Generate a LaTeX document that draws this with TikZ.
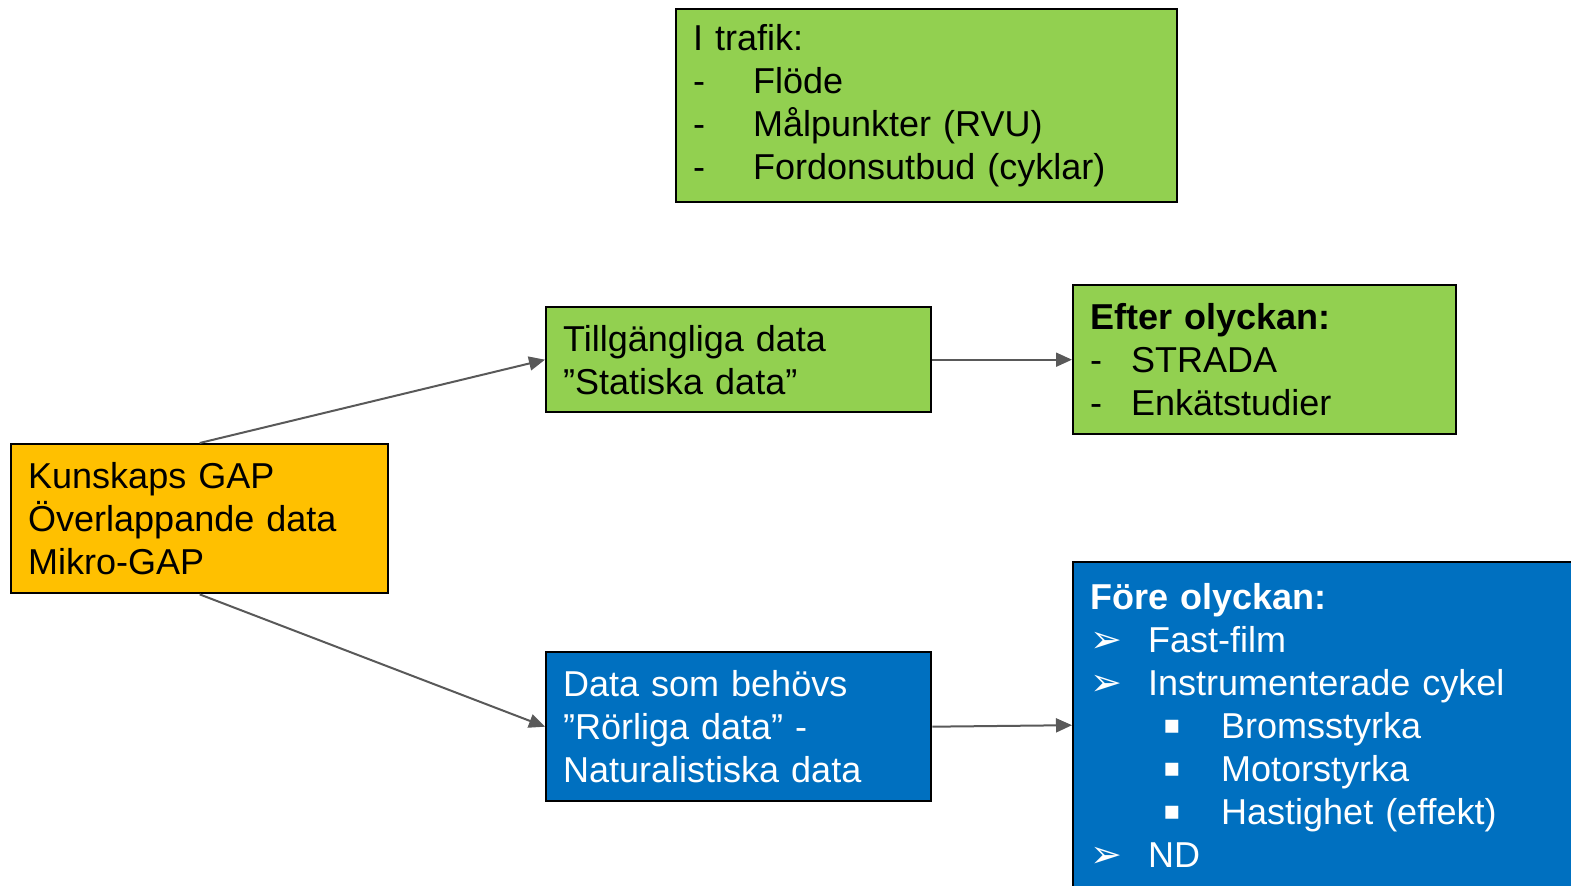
\documentclass[tikz,border=0pt]{standalone}
\usepackage{fontspec}
\setmainfont{Liberation Sans}
\newfontfamily\symfont{DejaVu Sans}
\usetikzlibrary{arrows.meta}

\definecolor{boxgreen}{HTML}{92D050}
\definecolor{boxorange}{HTML}{FFC000}
\definecolor{boxblue}{HTML}{0070C0}
\definecolor{arrowgray}{HTML}{595959}

\newcommand{\dashline}[2]{\makebox[#1][l]{-}#2}
\newcommand{\arrline}[1]{\makebox[29pt][l]{\symfont\fontsize{19}{14}\selectfont ➢}#1}
\newcommand{\sqline}[1]{\hspace*{36.5pt}\makebox[29pt][l]{\raisebox{2.5pt}{\symfont\fontsize{13}{14}\selectfont ▪}}#1}

\begin{document}
\begin{tikzpicture}[x=0.5pt,y=-0.5pt,
  box/.style={draw=black, line width=1.2pt, anchor=north west, align=left,
    inner xsep=8.5pt, inner ysep=0pt,
    font=\fontsize{18}{21.5}\selectfont},
  link/.style={draw=arrowgray, line width=1pt, -{Triangle[length=8pt,width=7pt]}}]
\useasboundingbox (0,0) rectangle (1571,886);
\clip (0,0) rectangle (1571,886);

\node[box, fill=boxgreen, text width=233.5pt, minimum height=96.5pt] (trafik) at (675,8){I trafik:\\
\dashline{30pt}{Flöde}\\
\dashline{30pt}{Målpunkter (RVU)}\\
\dashline{30pt}{Fordonsutbud (cyklar)}};

\node[box, fill=boxorange, text width=171.5pt, minimum height=74.5pt] (gap) at (10,443){Kunskaps GAP\\
Överlappande data\\
Mikro-GAP};

\node[box, fill=boxgreen, text width=175.5pt, minimum height=52.5pt] (tillg) at (545,306){Tillgängliga data\\
”Statiska data”};

\node[box, fill=boxgreen, text width=174.5pt, minimum height=74.5pt] (efter) at (1072,284){\textbf{Efter olyckan:}\\
\dashline{20.5pt}{STRADA}\\
\dashline{20.5pt}{Enkätstudier}};

\node[box, fill=boxblue, text=white, text width=175.5pt, minimum height=74.5pt] (behov) at (545,651){Data som behövs\\
”Rörliga data” -\\
Naturalistiska data};

\node[box, fill=boxblue, text=white, text width=237pt, minimum height=163pt] (fore) at (1072,561){\textbf{Före olyckan:}\\
\arrline{Fast-film}\\
\arrline{Instrumenterade cykel}\\
\sqline{Bromsstyrka}\\
\sqline{Motorstyrka}\\
\sqline{Hastighet (effekt)}\\
\arrline{ND}};

\draw[link](gap.north) -- (tillg.west);
\draw[link](gap.south) -- (behov.west);
\draw[link](tillg.east) -- (efter.west);
\draw[link](behov.east) -- (fore.west);

\end{tikzpicture}
\end{document}
